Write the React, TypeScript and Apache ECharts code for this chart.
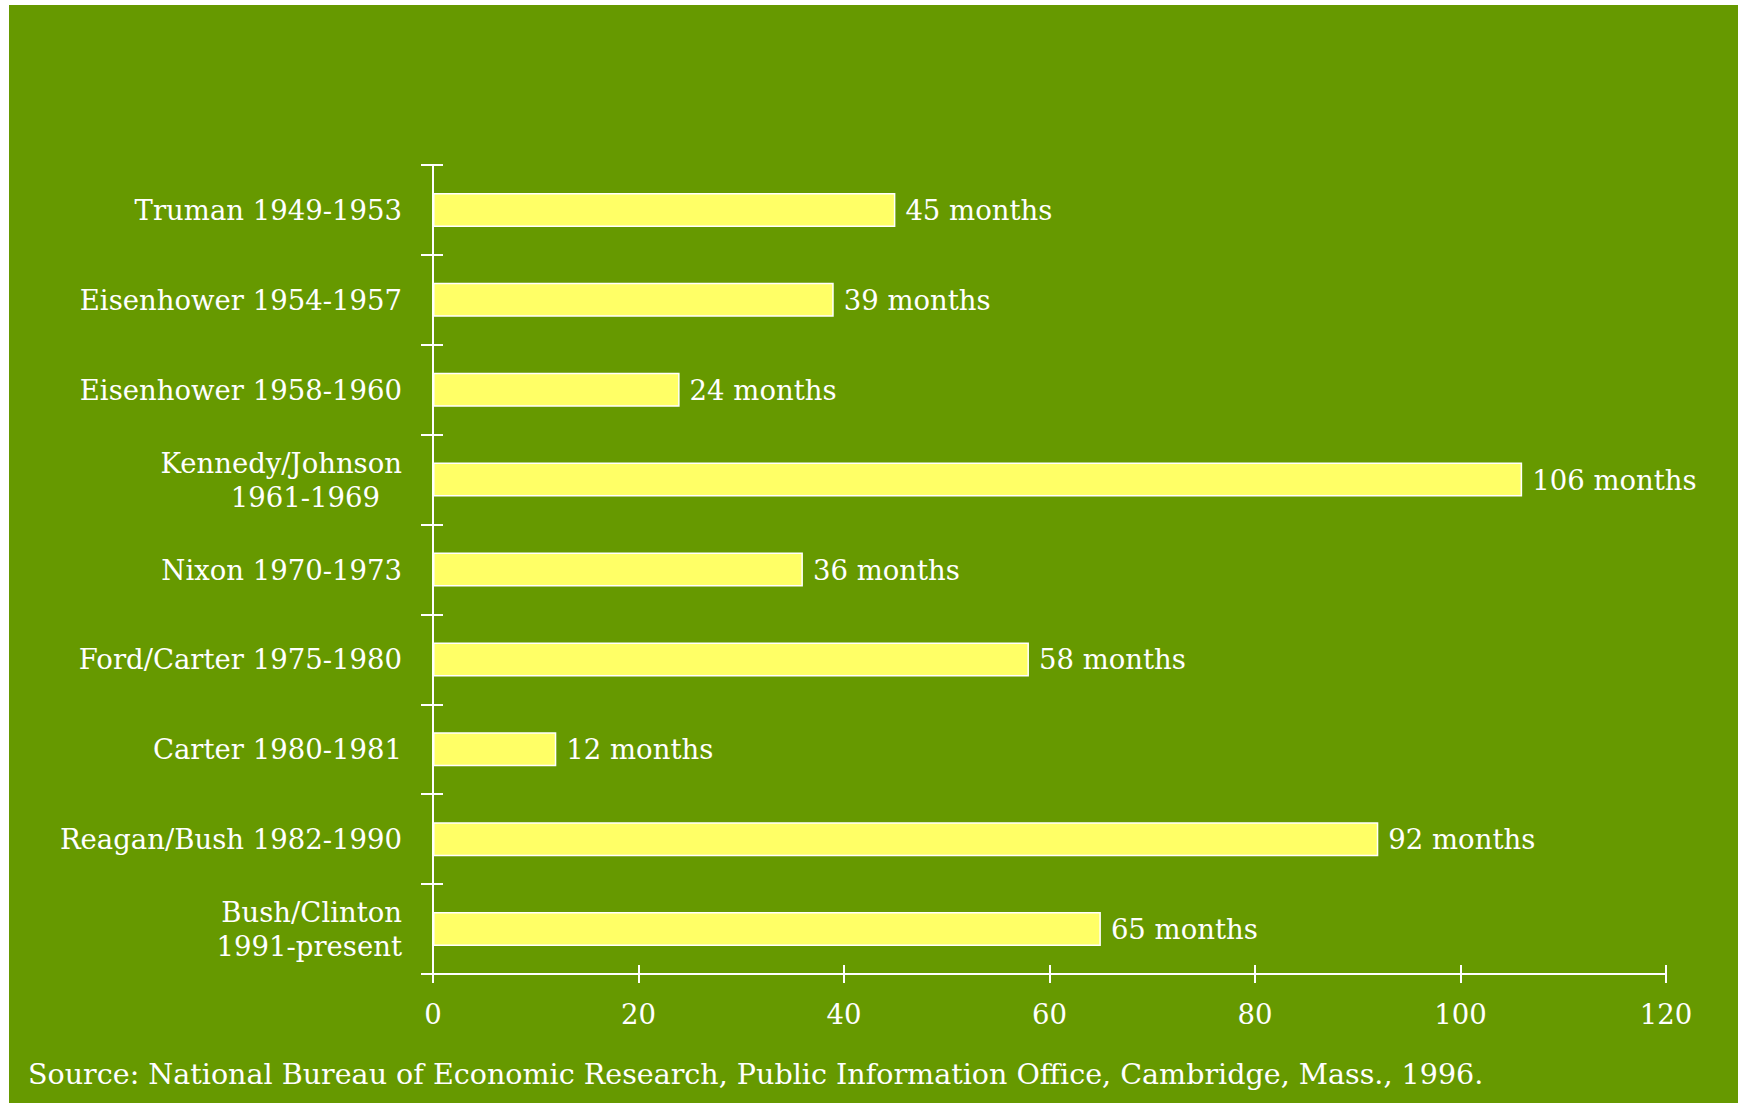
import React, { useEffect, useRef } from "react";
import * as echarts from "echarts";

const categories = [
  "Truman 1949-1953",
  "Eisenhower 1954-1957",
  "Eisenhower 1958-1960",
  "Kennedy/Johnson\n1961-1969",
  "Nixon 1970-1973",
  "Ford/Carter 1975-1980",
  "Carter 1980-1981",
  "Reagan/Bush 1982-1990",
  "Bush/Clinton\n1991-present",
];
const months = [45, 39, 24, 106, 36, 58, 12, 92, 65];
const xTicks = [0, 20, 40, 60, 80, 100, 120];
const sourceText =
  "Source: National Bureau of Economic Research, Public Information Office, Cambridge, Mass., 1996.";

const FONT = "DejaVu Serif";
const FS = 27.5;
const WHITE = "#ffffff";
const GREEN = "#669900";

export default function App() {
  const ref = useRef<HTMLDivElement>(null);
  useEffect(() => {
    if (!ref.current) return;
    const chart = echarts.init(ref.current, null, { renderer: "svg" });
    const textBase = { color: WHITE, fontFamily: FONT, fontSize: FS };
    chart.setOption({
      animation: false,
      backgroundColor: "#ffffff",
      graphic: [
        {
          type: "rect",
          z: -10,
          shape: { x: 9, y: 5, width: 1729, height: 1098 },
          style: { fill: GREEN },
        },
        {
          type: "text",
          x: 28,
          y: 1075,
          scaleX: 1.02,
          style: {
            text: sourceText,
            fill: WHITE,
            font: `28px "${FONT}"`,
            textVerticalAlign: "middle",
          },
        },
      ],
      grid: { left: 433, right: 77, top: 165, bottom: 129, containLabel: false },
      xAxis: [
        {
          type: "value",
          min: xTicks[0],
          max: xTicks[xTicks.length - 1],
          interval: 20,
          position: "bottom",
          axisLine: { show: true, onZero: false, lineStyle: { color: WHITE, width: 2 } },
          axisTick: { show: true, length: 9, lineStyle: { color: WHITE, width: 2 } },
          axisLabel: { ...textBase, margin: 26 },
          splitLine: { show: false },
        },
        {
          type: "value",
          min: xTicks[0],
          max: xTicks[xTicks.length - 1],
          interval: 20,
          position: "bottom",
          axisLine: { show: false },
          axisTick: { show: true, inside: true, length: 9, lineStyle: { color: WHITE, width: 2 } },
          axisLabel: { show: false },
          splitLine: { show: false },
        },
      ],
      yAxis: [
        {
          type: "category",
          data: categories,
          inverse: true,
          position: "left",
          axisLine: { show: true, onZero: false, lineStyle: { color: WHITE, width: 2 } },
          axisTick: { show: true, length: 12, lineStyle: { color: WHITE, width: 2 } },
          axisLabel: {
            ...textBase,
            margin: 31,
            align: "right",
            lineHeight: 34,
            formatter: (v: string) => {
              const parts = v.split("\n");
              if (parts.length === 1) return v;
              const padSecond = v.startsWith("Kennedy");
              return `{a|${parts[0]}}\n{${padSecond ? "p" : "a"}|${parts[1]}}`;
            },
            rich: {
              a: { ...textBase, lineHeight: 34 },
              p: { ...textBase, lineHeight: 34, padding: [0, 22, 0, 0] },
            },
          },
        },
        {
          type: "category",
          data: categories,
          inverse: true,
          position: "left",
          axisLine: { show: false },
          axisTick: { show: true, inside: true, length: 10, lineStyle: { color: WHITE, width: 2 } },
          axisLabel: { show: false },
        },
      ],
      series: [
        {
          type: "bar",
          xAxisIndex: 0,
          yAxisIndex: 0,
          data: months,
          barWidth: 34,
          itemStyle: { color: "#ffff66", borderColor: "#ffffff", borderWidth: 1.5 },
          label: {
            show: true,
            position: "right",
            distance: 10,
            formatter: "{c} months",
            ...textBase,
          },
        },
      ],
    });
    return () => chart.dispose();
  }, []);
  return (
    <div
      ref={ref}
      style={{ position: "fixed", left: 0, top: 0, width: 1743, height: 1103 }}
    />
  );
}
